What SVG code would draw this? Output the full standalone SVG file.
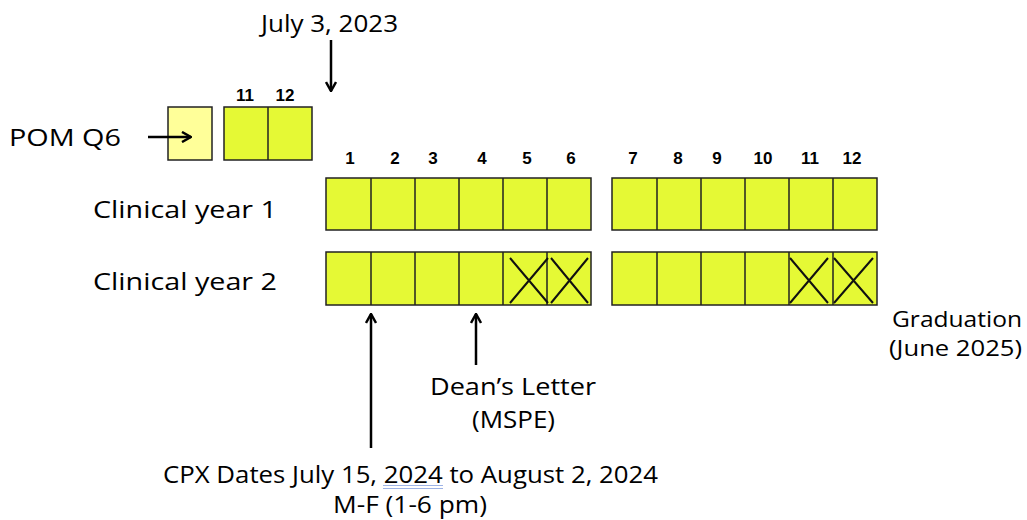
<svg xmlns="http://www.w3.org/2000/svg" width="1027" height="520" viewBox="0 0 1027 520">
<style>
.t{font-family:"Open Sans","Liberation Sans",sans-serif;font-size:24px;fill:#000}
.g{font-size:22px}
.n{font-family:"Liberation Sans",Arial,sans-serif;font-size:17px;font-weight:bold;fill:#000;text-anchor:middle}
.b{fill:#E5F935;stroke:#222;stroke-width:1.5}
.lb{fill:#FFFF99;stroke:#222;stroke-width:1.5}
.d{stroke:#222;stroke-width:1.5;fill:none}
.x{stroke:#111;stroke-width:2;fill:none}
.a{stroke:#000;stroke-width:2.5;fill:none;marker-end:url(#ah)}
</style>
<defs>
<marker id="ah" viewBox="0 0 12 12" refX="11" refY="6" markerWidth="12" markerHeight="12" markerUnits="userSpaceOnUse" orient="auto">
<path d="M2,1 L11,6 L2,11" fill="none" stroke="#000" stroke-width="2.5"/>
</marker>
</defs>
<rect width="1027" height="520" fill="#fff"/>

<g id="july3"><text class="t" x="261" y="32" textLength="137" lengthAdjust="spacingAndGlyphs">July 3, 2023</text></g>
<g id="pomq6"><text class="t" x="9" y="146" textLength="112" lengthAdjust="spacingAndGlyphs">POM Q6</text></g>
<g id="pombox"><rect class="lb" x="168" y="107" width="44" height="53"/></g>
<g id="prev">
<text class="n" x="245" y="101">11</text><text class="n" x="285" y="101">12</text>
<rect class="b" x="224" y="107" width="88" height="53"/>
<line class="d" x1="268" y1="107" x2="268" y2="160"/>
</g>

<g id="months">
<text class="n" x="350" y="164">1</text><text class="n" x="395" y="164">2</text><text class="n" x="433" y="164">3</text>
<text class="n" x="482" y="164">4</text><text class="n" x="527" y="164">5</text><text class="n" x="571" y="164">6</text>
<text class="n" x="633" y="164">7</text><text class="n" x="678" y="164">8</text><text class="n" x="717" y="164">9</text>
<text class="n" x="763" y="164">10</text><text class="n" x="810" y="164">11</text><text class="n" x="852" y="164">12</text>
</g>

<g id="cy1label"><text class="t" x="93" y="218" textLength="184" lengthAdjust="spacingAndGlyphs">Clinical year 1</text></g>
<g id="cy2label"><text class="t" x="93" y="290" textLength="184" lengthAdjust="spacingAndGlyphs">Clinical year 2</text></g>

<g id="cy1a">
<rect class="b" x="326" y="178" width="265" height="52"/>
<path class="d" d="M371,178V230M415,178V230M459,178V230M503,178V230M547,178V230"/>
</g>
<g id="cy1b">
<rect class="b" x="612" y="178" width="265" height="52"/>
<path class="d" d="M657,178V230M701,178V230M745,178V230M789,178V230M833,178V230"/>
</g>
<g id="cy2a">
<rect class="b" x="326" y="252" width="265" height="53"/>
<path class="d" d="M371,252V305M415,252V305M459,252V305M503,252V305M547,252V305"/>
<path class="x" d="M510,258L548,303M548,258L510,303M551,258L588,303M588,258L551,303"/>
</g>
<g id="cy2b">
<rect class="b" x="612" y="252" width="265" height="53"/>
<path class="d" d="M657,252V305M701,252V305M745,252V305M789,252V305M833,252V305"/>
<path class="x" d="M790,258L828,303M828,258L790,303M834,258L873,303M873,258L834,303"/>
</g>

<g id="graduation">
<text class="t g" x="892" y="327" textLength="130" lengthAdjust="spacingAndGlyphs">Graduation</text>
<text class="t g" x="889" y="356" textLength="133" lengthAdjust="spacingAndGlyphs">(June 2025)</text>
</g>
<g id="dean">
<text class="t" x="430" y="395" textLength="166" lengthAdjust="spacingAndGlyphs">Dean’s Letter</text>
<text class="t" x="472" y="428" textLength="83" lengthAdjust="spacingAndGlyphs">(MSPE)</text>
</g>
<g id="cpx">
<text class="t" x="163" y="483" textLength="495" lengthAdjust="spacingAndGlyphs">CPX Dates July 15, 2024 to August 2, 2024</text>
<text class="t" x="333" y="513" textLength="154" lengthAdjust="spacingAndGlyphs">M-F (1-6 pm)</text>
<path d="M383,485.5H443M383,488.5H443" stroke="#9db3e6" stroke-width="1" fill="none"/>
</g>

<g id="connectors">
<line class="a" x1="331" y1="40" x2="331" y2="91"/>
<line class="a" x1="148" y1="137" x2="191" y2="137"/>
<line class="a" x1="371" y1="448" x2="371" y2="314"/>
<line class="a" x1="476" y1="365" x2="476" y2="314"/>
</g>
</svg>
